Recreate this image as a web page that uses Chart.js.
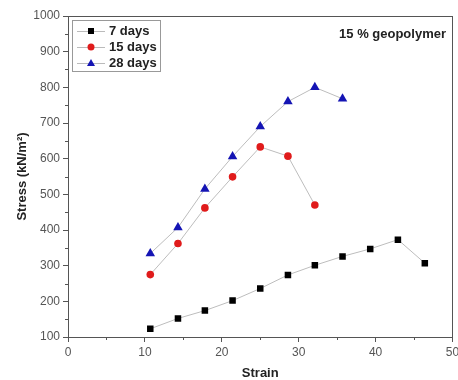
<!DOCTYPE html>
<html>
<head>
<meta charset="utf-8">
<script src="https://cdn.jsdelivr.net/npm/chart.js@4"></script>
<style>
html,body{margin:0;padding:0;background:#fff;}
#wrap{width:458px;height:380px;}
</style>
</head>
<body>
<div id="wrap"><canvas id="c" width="458" height="380"></canvas></div>
<script>
const strain7 = [10.7, 14.3, 17.8, 21.4, 25.0, 28.6, 32.1, 35.7, 39.3, 42.9, 46.4];
const stress7 = [123, 152, 174, 202, 236, 274, 301, 326, 347, 373, 307];
const strain15 = [10.7, 14.3, 17.8, 21.4, 25.0, 28.6, 32.1];
const stress15 = [275, 362, 462, 549, 633, 607, 470];
const strain28 = [10.7, 14.3, 17.8, 21.4, 25.0, 28.6, 32.1, 35.7];
const stress28 = [334, 407, 515, 606, 690, 760, 800, 768];
const seriesNames = ['7 days', '15 days', '28 days'];
const annotationText = '15 % geopolymer';
const xTitle = 'Strain';
const yTitle = 'Stress (kN/m\u00B2)';

function pts(xs, ys){ return xs.map((x,i)=>({x:x, y:ys[i]})); }

const styles = [
  {color:'#000000', pointStyle:'rect', radius:4.6},
  {color:'#e01b1b', pointStyle:'circle', radius:3.8},
  {color:'#1414b4', pointStyle:'triangle', radius:5.5}
];
const datas = [pts(strain7, stress7), pts(strain15, stress15), pts(strain28, stress28)];

const FONT = 'Liberation Sans, Arial, sans-serif';

const extras = {
  id:'extras',
  afterDraw(chart){
    const ctx = chart.ctx, a = chart.chartArea;
    const xs = chart.scales.x, ys = chart.scales.y;
    ctx.save();
    // frame
    ctx.strokeStyle = '#555';
    ctx.lineWidth = 1;
    ctx.strokeRect(Math.round(a.left)+0.5, Math.round(a.top)+0.5, Math.round(a.right-a.left)-1, Math.round(a.bottom-a.top));
    // minor ticks
    ctx.beginPath();
    for (let v = 150; v < 1000; v += 100){
      const p = Math.round(ys.getPixelForValue(v))+0.5;
      ctx.moveTo(a.left, p); ctx.lineTo(a.left-3, p);
    }
    for (let v = 5; v < 50; v += 10){
      const p = Math.round(xs.getPixelForValue(v))+0.5;
      ctx.moveTo(p, a.bottom); ctx.lineTo(p, a.bottom+3);
    }
    ctx.stroke();
    // legend
    const lx = 72, ly = 20, lw = 88, lh = 51;
    ctx.strokeStyle = '#999';
    ctx.strokeRect(lx+0.5, ly+0.5, lw, lh);
    ctx.font = 'bold 13px ' + FONT;
    ctx.textBaseline = 'middle';
    ctx.textAlign = 'left';
    const rows = [31, 47, 63];
    for (let i=0;i<3;i++){
      const y = rows[i];
      ctx.strokeStyle = '#bbbbbb';
      ctx.lineWidth = 1;
      ctx.beginPath(); ctx.moveTo(77, y+0.5); ctx.lineTo(105, y+0.5); ctx.stroke();
      const s = styles[i];
      ctx.fillStyle = s.color;
      ctx.beginPath();
      if (s.pointStyle === 'rect') { ctx.fillRect(91-3, y-3, 6, 6); }
      else if (s.pointStyle === 'circle') { ctx.arc(91, y, 3.5, 0, Math.PI*2); ctx.fill(); }
      else { ctx.moveTo(91, y-4); ctx.lineTo(95, y+3); ctx.lineTo(87, y+3); ctx.closePath(); ctx.fill(); }
      ctx.fillStyle = '#222';
      ctx.fillText(seriesNames[i], 109, y+0.5);
    }
    // annotation
    ctx.font = 'bold 13px ' + FONT;
    ctx.textAlign = 'right';
    ctx.fillStyle = '#222';
    ctx.fillText(annotationText, 446, 34);
    ctx.restore();
  }
};

new Chart(document.getElementById('c'), {
  type:'line',
  data:{
    datasets: datas.map((d,i)=>({
      label: seriesNames[i],
      data: d,
      borderColor:'#bdbdbd',
      borderWidth:1,
      backgroundColor: styles[i].color,
      pointBackgroundColor: styles[i].color,
      pointBorderColor: styles[i].color,
      pointBorderWidth: 0,
      pointStyle: styles[i].pointStyle,
      pointRadius: styles[i].radius,
      tension:0,
      fill:false
    }))
  },
  plugins:[extras],
  options:{
    responsive:false,
    animation:false,
    layout:{padding:{top:16, right:5, left:0, bottom:0}},
    plugins:{legend:{display:false}, tooltip:{enabled:false}},
    scales:{
      x:{
        type:'linear', min:0, max:50,
        ticks:{stepSize:10, color:'#555', font:{family:FONT, size:12}, padding:3, maxRotation:0},
        grid:{drawOnChartArea:false, drawTicks:true, tickLength:5, color:'#555'},
        border:{display:true, color:'#555'},
        title:{display:true, text:xTitle, color:'#222', font:{family:FONT, size:13, weight:'bold'}, padding:{top:4, bottom:-1}},
        afterFit(s){ s.height = 43; s.paddingRight = 0; s.paddingLeft = 0; }
      },
      y:{
        type:'linear', min:100, max:1000,
        ticks:{stepSize:100, color:'#555', font:{family:FONT, size:12}, padding:3, callback:(v)=>String(v)},
        grid:{drawOnChartArea:false, drawTicks:true, tickLength:5, color:'#555'},
        border:{display:true, color:'#555'},
        title:{display:true, text:yTitle, color:'#222', font:{family:FONT, size:13, weight:'bold'}, padding:{top:15}},
        afterFit(s){ s.width = 68; s.paddingTop = 0; s.paddingBottom = 0; }
      }
    }
  }
});
</script>
</body>
</html>
